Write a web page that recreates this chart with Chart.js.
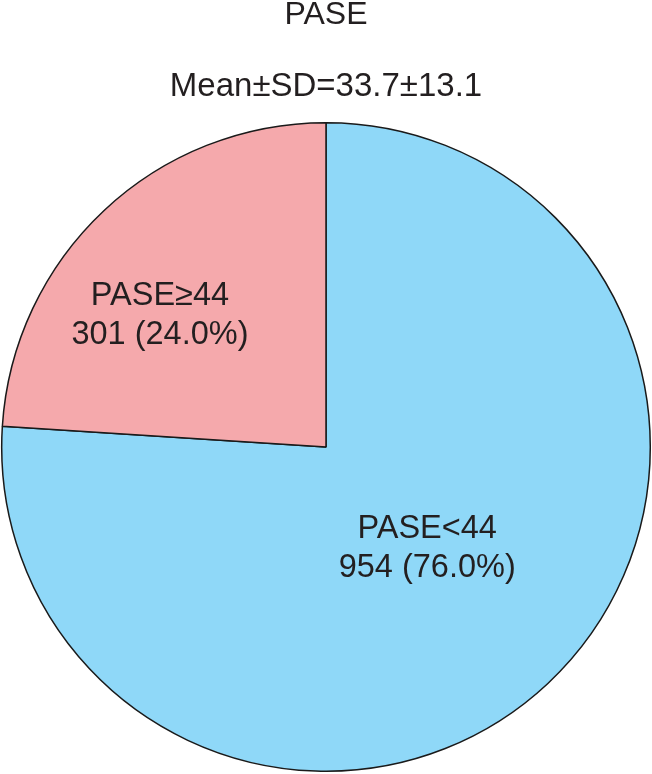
<!DOCTYPE html>
<html>
<head>
<meta charset="utf-8">
<script src="https://cdn.jsdelivr.net/npm/chart.js@4.4.0/dist/chart.umd.min.js"></script>
<style>
  html, body { margin: 0; padding: 0; background: #ffffff; }
  #wrap { width: 652px; height: 774px; }
</style>
</head>
<body>
<div id="wrap"><canvas id="pieChart" width="652" height="774"></canvas></div>
<script>
const categories = ["PASE<44", "PASE\u226544"];
const counts = [954, 301];
const percents = ["76.0%", "24.0%"];
const sliceColors = ["#8fd8f8", "#f5a9ac"];
// label anchor as fraction of radius from centre (hand placed in the original)
const labelOffsets = [[0.312, 0.315], [-0.512, -0.405]];

const textColor = "#231f20";
const fontFamily = "'Liberation Sans', Arial, sans-serif";

const sliceLabels = {
  id: "sliceLabels",
  afterDatasetsDraw(chart) {
    const { ctx } = chart;
    const meta = chart.getDatasetMeta(0);
    meta.data.forEach((arc, i) => {
      const r = arc.outerRadius;
      const x = arc.x + labelOffsets[i][0] * r;
      const y = arc.y + labelOffsets[i][1] * r;
      ctx.save();
      ctx.fillStyle = textColor;
      ctx.font = "32.5px " + fontFamily;
      ctx.textAlign = "center";
      ctx.textBaseline = "middle";
      ctx.fillText(categories[i], x, y - 20);
      ctx.fillText(counts[i] + " (" + percents[i] + ")", x, y + 19);
      ctx.restore();
    });
  },
};

new Chart(document.getElementById("pieChart"), {
  type: "pie",
  data: {
    labels: categories,
    datasets: [
      {
        data: counts,
        backgroundColor: sliceColors,
        borderColor: "#1a1a1a",
        borderWidth: 1.5,
      },
    ],
  },
  options: {
    responsive: false,
    animation: false,
    layout: { padding: { top: 0, bottom: 2, left: 0, right: 0 } },
    plugins: {
      legend: { display: false },
      tooltip: { enabled: false },
      title: {
        display: true,
        text: "PASE",
        color: textColor,
        font: { family: fontFamily, size: 32, weight: "normal", lineHeight: 0.95 },
        padding: { top: 0, bottom: 40 },
      },
      subtitle: {
        display: true,
        text: "Mean\u00b1SD=33.7\u00b113.1",
        color: textColor,
        font: { family: fontFamily, size: 33, weight: "normal", lineHeight: 1 },
        padding: { top: 0, bottom: 18.5 },
      },
    },
  },
  plugins: [sliceLabels],
});
</script>
</body>
</html>
